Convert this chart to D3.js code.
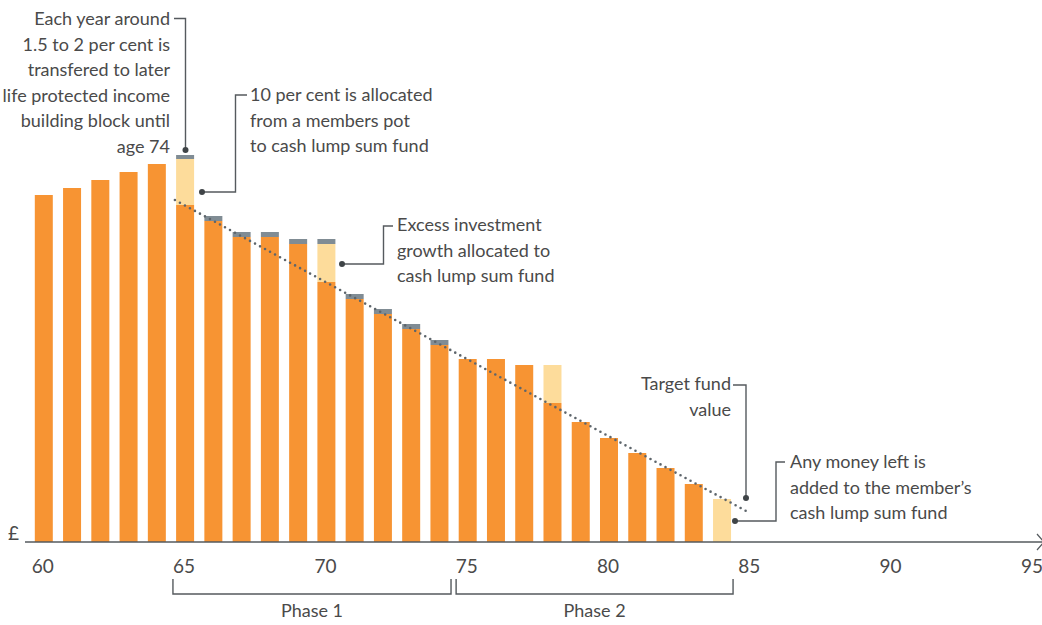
<!DOCTYPE html>
<html>
<head>
<meta charset="utf-8">
<script src="https://cdn.jsdelivr.net/npm/d3@7"></script>
<style>
  html, body { margin: 0; padding: 0; background: #fff; }
  svg { display: block; }
  text { font-family: Lato, "Open Sans", sans-serif; fill: #4a4a4a; }
</style>
</head>
<body>
<svg id="chart" width="1042" height="625"></svg>
<script>
// ---- data ----
const ages = [60,61,62,63,64,65,66,67,68,69,70,71,72,73,74,75,76,77,78,79,80,81,82,83,84];
const fundValue = [347,354,362,370,378,337,321,305,305,298,260,243,228,213,197,183,183,177,139,120,104,89,74,58,0];
const cashLumpSum = [0,0,0,0,0,46,0,0,0,0,38,0,0,0,0,0,0,0,38,0,0,0,0,0,43];
const protectedIncome = [0,0,0,0,0,4,5,5,5,5,5,5,5,5,5,0,0,0,0,0,0,0,0,0,0];
const tickAges = [60,65,70,75,80,85,90,95];
const targetAges = [64.64, 84.85];
const targetValues = [342, 31];
const phases = [
  {label: "Phase 1", from: 64.57, to: 74.41},
  {label: "Phase 2", from: 74.59, to: 84.39}
];

// ---- layout ----
const svg = d3.select("#chart");
const x = d3.scaleLinear().domain([60, 95]).range([43.8, 1032.9]);
const y = d3.scaleLinear().domain([0, 400]).range([542, 142]);
const barW = 18;
const orange = "#f79433", yellow = "#fddc9b", grey = "#808c94", lineCol = "#555a5e";

const rows = ages.map((a, i) => ({age: a, base: fundValue[i], cash: cashLumpSum[i], prot: protectedIncome[i]}));
const stack = d3.stack().keys(["base", "cash", "prot"])(rows);
const colors = {base: orange, cash: yellow, prot: grey};

svg.append("g").selectAll("g").data(stack).join("g")
  .attr("fill", d => colors[d.key])
  .selectAll("rect").data(d => d.filter(s => s[1] > s[0])).join("rect")
  .attr("x", d => x(d.data.age) - barW / 2)
  .attr("width", barW)
  .attr("y", d => y(d[1]))
  .attr("height", d => y(d[0]) - y(d[1]));

// target line
const line = d3.line().x(d => x(d[0])).y(d => y(d[1]));
svg.append("path")
  .datum(d3.zip(targetAges, targetValues))
  .attr("d", line)
  .attr("fill", "none")
  .attr("stroke", "#5d656b")
  .attr("stroke-width", 2.6)
  .attr("stroke-linecap", "round")
  .attr("stroke-dasharray", "0,5.7");

// axis
const axisG = svg.append("g").attr("transform", `translate(0,${y(0)})`);
axisG.append("line").attr("x1", 25).attr("x2", 1042).attr("y1", 0).attr("y2", 0)
  .attr("stroke", lineCol).attr("stroke-width", 1.6);
axisG.append("path").attr("d", "M1037,-8 L1044,0 L1037,8").attr("fill", "none")
  .attr("stroke", lineCol).attr("stroke-width", 1.2);
axisG.selectAll("text.tick").data(tickAges).join("text")
  .attr("class", "tick")
  .attr("x", d => x(d) - 1)
  .attr("y", 31)
  .attr("text-anchor", "middle")
  .style("font-size", "19px")
  .text(d => d);
svg.append("text").attr("x", 8).attr("y", 540).style("font-size", "19px").text("£");

// phase brackets
const ph = svg.append("g");
phases.forEach(p => {
  const x0 = x(p.from), x1 = x(p.to);
  ph.append("path").attr("d", `M${x0},579 V594 H${x1} V579`)
    .attr("fill", "none").attr("stroke", lineCol).attr("stroke-width", 1.4);
  ph.append("text").attr("x", (x0 + x1) / 2).attr("y", 617)
    .attr("text-anchor", "middle").style("font-size", "18px").text(p.label);
});

// annotations
function annot(lines, tx, ty, anchor, path, dot) {
  const t = svg.append("text").attr("text-anchor", anchor).style("font-size", "18px");
  lines.forEach((l, i) => t.append("tspan").attr("x", tx).attr("y", ty + i * 25.5).text(l));
  svg.append("path").attr("d", path).attr("fill", "none")
    .attr("stroke", lineCol).attr("stroke-width", 1.4);
  svg.append("circle").attr("cx", dot[0]).attr("cy", dot[1]).attr("r", 3).attr("fill", "#3f4447");
}
annot(["Each year around", "1.5 to 2 per cent is", "transfered to later", "life protected income", "building block until", "age 74"],
  170, 25, "end", "M174,18.5 H185.5 V150", [185.5, 150]);
annot(["10 per cent is allocated", "from a members pot", "to cash lump sum fund"],
  250, 101, "start", "M247,95 H235.5 V192 H202", [202, 192]);
annot(["Excess investment", "growth allocated to", "cash lump sum fund"],
  397, 231, "start", "M393,226 H383.5 V264 H342", [342, 264]);
annot(["Target fund", "value"],
  731, 390, "end", "M733,385 H746 V498", [746, 498]);
annot(["Any money left is", "added to the member’s", "cash lump sum fund"],
  790, 468, "start", "M785,462 H776 V521 H735", [735, 521]);
</script>
</body>
</html>
